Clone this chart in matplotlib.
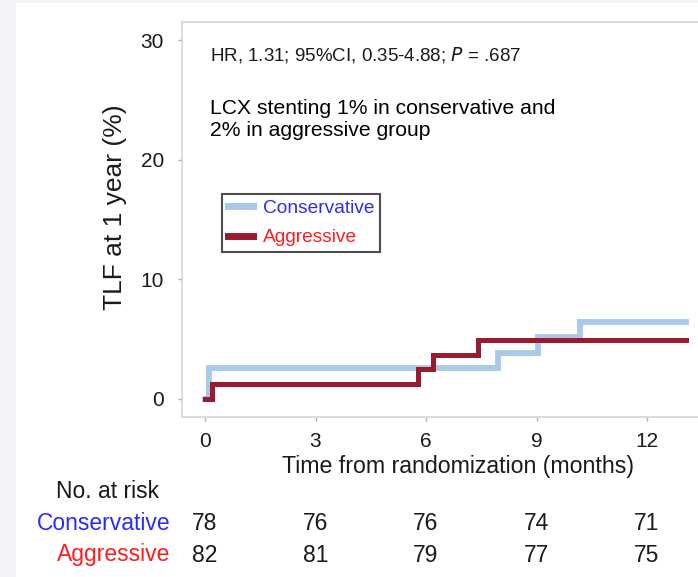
import matplotlib
matplotlib.use("Agg")
import matplotlib.pyplot as plt
from matplotlib.patches import Rectangle
from matplotlib.lines import Line2D

plt.rcParams['font.family'] = ['Liberation Sans', 'DejaVu Sans']

# ---- data ----
cons_times = [0, 0.12, 7.96, 9.03, 10.18, 13.05]
cons_tlf = [0, 2.56, 3.85, 5.13, 6.41, 6.41]
aggr_times = [0, 0.18, 5.78, 6.19, 7.40, 13.05]
aggr_tlf = [0, 1.22, 2.44, 3.66, 4.88, 4.88]

x_ticks = [0, 3, 6, 9, 12]
y_ticks = [0, 10, 20, 30]
groups = ["Conservative", "Aggressive"]
risk_cons = [78, 76, 76, 74, 71]
risk_aggr = [82, 81, 79, 77, 75]

col_cons = '#a8c9ea'
col_aggr = '#9c1a30'
txt_cons = '#2b2bff'
txt_aggr = '#ff1c1c'

W, H = 698, 577
fig = plt.figure(figsize=(W / 100, H / 100), dpi=100, facecolor='#f2f4f7')
fig.patches.append(Rectangle((16 / W, 0), 1 - 16 / W, 1 - 3 / H,
                             transform=fig.transFigure, facecolor='white',
                             edgecolor='none', zorder=-10))

ax_l, ax_r, ax_t, ax_b = 182, 712, 22, 417
ax = fig.add_axes([ax_l / W, 1 - ax_b / H, (ax_r - ax_l) / W, (ax_b - ax_t) / H])
ax.set_facecolor('white')

px_per_x = (647 - 205) / 12.0
px_per_y = (398.6 - 40) / 30.0
ax.set_xlim((ax_l - 205) / px_per_x, (ax_r - 205) / px_per_x)
ax.set_ylim(-(ax_b - 398.6) / px_per_y, (398.6 - ax_t) / px_per_y)

ax.step(cons_times, cons_tlf, where='post', color=col_cons, lw=4.2,
        solid_joinstyle='miter', zorder=3)
ax.step(aggr_times, aggr_tlf, where='post', color=col_aggr, lw=3.6,
        solid_joinstyle='miter', zorder=4)

for s in ax.spines.values():
    s.set_color('#d4d4d4')
    s.set_linewidth(1.2)
ax.spines['right'].set_visible(False)

ax.set_xticks(x_ticks)
ax.set_yticks(y_ticks)
ax.tick_params(axis='both', direction='out', length=3, width=1, color='#b0b0b0',
               labelsize=15, labelcolor='#1a1a1a')
ax.tick_params(axis='y', pad=10)
ax.tick_params(axis='x', pad=8)
ax.set_ylabel('TLF at 1 year (%)', fontsize=19, labelpad=9.5, color='#1a1a1a')
ax.set_xlabel('Time from randomization (months)', fontsize=16.7, labelpad=3,
              color='#1a1a1a')
ax.yaxis.label.set_y((ax_b - 207) / (ax_b - ax_t))
ax.xaxis.label.set_x((458 - ax_l) / (ax_r - ax_l))

ax.text(210 / W, 1 - 55 / H, 'HR, 1.31; 95%CI, 0.35-4.88; $\\it{P}$ = .687',
        transform=fig.transFigure, fontsize=13.5, va='center', ha='left',
        color='#1a1a1a')
ax.text(210 / W, 1 - 119 / H, 'LCX stenting 1% in conservative and\n2% in aggressive group',
        transform=fig.transFigure, fontsize=15.2, va='center', ha='left',
        color='black', linespacing=1.2)

handles = [Line2D([], [], color=col_cons, lw=5),
           Line2D([], [], color=col_aggr, lw=5)]
leg = ax.legend(handles, groups, loc='upper left',
                bbox_to_anchor=(222 / W, 1 - 194 / H), bbox_transform=fig.transFigure,
                fontsize=13.8, frameon=True, fancybox=False, handlelength=1.3,
                handletextpad=0.55, borderpad=0.3, labelspacing=0.62,
                borderaxespad=0)
leg.get_frame().set_edgecolor('#222222')
leg.get_frame().set_linewidth(1.5)
for t, c in zip(leg.get_texts(), [txt_cons, txt_aggr]):
    t.set_color(c)

# risk table
tfs = 16.5
fig.text(108 / W, 1 - 492 / H, 'No. at risk', fontsize=tfs, ha='center',
         va='center', color='#1a1a1a')
for row_y, name, vals, c in [(523, groups[0], risk_cons, txt_cons),
                             (555, groups[1], risk_aggr, txt_aggr)]:
    fig.text(170 / W, 1 - row_y / H, name, fontsize=tfs, ha='right',
             va='center', color=c)
    for xt, v in zip(x_ticks, vals):
        xpix = 205 + xt * px_per_x
        fig.text(xpix / W, 1 - row_y / H, str(v), fontsize=tfs, ha='center',
                 va='center', color='#1a1a1a')

fig.savefig('out.png', dpi=100, facecolor=fig.get_facecolor())
